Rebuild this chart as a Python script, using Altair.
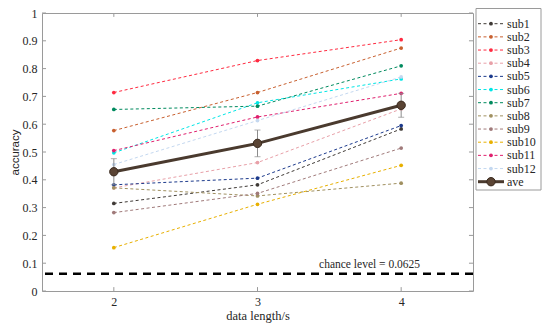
import altair as alt
import pandas as pd

# ---------------- data ----------------
x_len = [2, 3, 4]
sub_names = ["sub1", "sub2", "sub3", "sub4", "sub5", "sub6",
             "sub7", "sub8", "sub9", "sub10", "sub11", "sub12"]
sub1 = [0.315, 0.382, 0.583]
sub2 = [0.577, 0.714, 0.874]
sub3 = [0.714, 0.829, 0.904]
sub4 = [0.371, 0.462, 0.655]
sub5 = [0.382, 0.406, 0.595]
sub6 = [0.497, 0.677, 0.763]
sub7 = [0.653, 0.665, 0.810]
sub8 = [0.371, 0.342, 0.388]
sub9 = [0.282, 0.351, 0.514]
sub10 = [0.156, 0.312, 0.452]
sub11 = [0.505, 0.626, 0.711]
sub12 = [0.455, 0.613, 0.770]
ave = [0.429, 0.531, 0.668]
ave_err = [0.047, 0.048, 0.043]
chance = [0.0625]
chance_label = ["chance level = 0.0625"]
y_ticks = [0, 0.1, 0.2, 0.3, 0.4, 0.5, 0.6, 0.7, 0.8, 0.9, 1]

sub_vals = [sub1, sub2, sub3, sub4, sub5, sub6, sub7, sub8, sub9, sub10, sub11, sub12]
sub_colors = ["#3f3a36", "#c8602f", "#ff2a40", "#e8a0a8", "#1c3a8c", "#00e6e6",
              "#008a5e", "#a09060", "#a07a7a", "#e8b000", "#e0206e", "#c4d8f0"]
ave_color = "#4a3a2e"
all_names = sub_names + ["ave"]

rows = []
for name, vals in zip(sub_names, sub_vals):
    for xv, v in zip(x_len, vals):
        rows.append({"series": name, "x": xv, "acc": v})
df = pd.DataFrame(rows)
ave_df = pd.DataFrame({
    "x": x_len, "acc": ave,
    "lo": [a - e for a, e in zip(ave, ave_err)],
    "hi": [a + e for a, e in zip(ave, ave_err)],
})

FONT = "Liberation Serif"
FRAME = "#9a9a9a"
TXT = "#262626"

xs = alt.Scale(domain=[1.5, 4.5], nice=False, zero=False)
ys = alt.Scale(domain=[0, 1], nice=False, zero=False)
color_scale = alt.Scale(domain=sub_names, range=sub_colors)

xaxis = alt.Axis(values=x_len, title="data length/s", ticks=False, domain=False, grid=False,
                 labelFont=FONT, labelFontSize=12, labelColor=TXT, labelPadding=5,
                 titleFont=FONT, titleFontSize=12.5, titleFontWeight="normal",
                 titleColor=TXT, titlePadding=2)
yaxis = alt.Axis(values=y_ticks, format=".1~f", title="accuracy", ticks=False, domain=False,
                 grid=False, labelFont=FONT, labelFontSize=12, labelColor=TXT, labelPadding=5,
                 titleFont="Liberation Sans", titleFontSize=11.5, titleFontWeight="normal",
                 titleColor=TXT, titlePadding=2)

X = lambda f: alt.X(f, scale=xs, axis=xaxis)
Y = lambda f: alt.Y(f, scale=ys, axis=yaxis)

# ---------------- main plot ----------------
sub_lines = alt.Chart(df).mark_line(strokeDash=[3, 2.5], strokeWidth=1).encode(
    x=X("x:Q"), y=Y("acc:Q"),
    color=alt.Color("series:N", scale=color_scale, legend=None),
    detail="series:N",
)
sub_pts = alt.Chart(df).mark_circle(size=14, opacity=1).encode(
    x=X("x:Q"), y=Y("acc:Q"),
    color=alt.Color("series:N", scale=color_scale, legend=None),
)
err_rule = alt.Chart(ave_df).mark_rule(color="#8c8c8c", strokeWidth=1).encode(
    x=X("x:Q"), y=Y("lo:Q"), y2="hi:Q")
err_lo = alt.Chart(ave_df).mark_tick(orient="horizontal", size=6, thickness=1, color="#8c8c8c").encode(
    x=X("x:Q"), y=Y("lo:Q"))
err_hi = alt.Chart(ave_df).mark_tick(orient="horizontal", size=6, thickness=1, color="#8c8c8c").encode(
    x=X("x:Q"), y=Y("hi:Q"))
ave_line = alt.Chart(ave_df).mark_line(color=ave_color, strokeWidth=3).encode(
    x=X("x:Q"), y=Y("acc:Q"))
ave_pts = alt.Chart(ave_df).mark_point(filled=True, size=70, fill="#5a4434",
                                       stroke="#3a2a1e", strokeWidth=1, opacity=1).encode(
    x=X("x:Q"), y=Y("acc:Q"))

chance_df = pd.DataFrame({"c": chance})
chance_line = alt.Chart(chance_df).mark_rule(color="black", strokeWidth=2.5,
                                             strokeDash=[8, 6]).encode(y=Y("c:Q"))
chance_txt_df = pd.DataFrame({"x": [3.78], "y": [0.094], "t": chance_label})
chance_txt = alt.Chart(chance_txt_df).mark_text(font=FONT, fontSize=11.5, color=TXT,
                                                align="center", baseline="middle").encode(
    x=X("x:Q"), y=Y("y:Q"), text="t:N")

# inward ticks (MATLAB-style box)
xt_b = pd.DataFrame({"x": x_len, "a": [0.0] * 3, "b": [0.014] * 3})
xt_t = pd.DataFrame({"x": x_len, "a": [1.0] * 3, "b": [0.986] * 3})
yt_l = pd.DataFrame({"y": y_ticks, "a": [1.5] * 11, "b": [1.528] * 11})
yt_r = pd.DataFrame({"y": y_ticks, "a": [4.5] * 11, "b": [4.472] * 11})
tick_layers = [
    alt.Chart(d).mark_rule(color=FRAME, strokeWidth=1).encode(x=X("x:Q"), y=Y("a:Q"), y2="b:Q")
    for d in (xt_b, xt_t)
] + [
    alt.Chart(d).mark_rule(color=FRAME, strokeWidth=1).encode(y=Y("y:Q"), x=X("a:Q"), x2="b:Q")
    for d in (yt_l, yt_r)
]

main = alt.layer(*tick_layers, chance_line, chance_txt, sub_lines, sub_pts,
                 err_rule, err_lo, err_hi, ave_line, ave_pts)

# ---------------- legend ----------------
leg_y = alt.Y("series:N", scale=alt.Scale(type="point", domain=all_names,
                                          range=[10.7, 168.7], padding=0), axis=None)
leg_sub = pd.DataFrame({"series": sub_names})
leg_ave = pd.DataFrame({"series": ["ave"]})
leg_all = pd.DataFrame({"series": all_names})

LX = 434
leg_box = alt.Chart(pd.DataFrame({"k": [0]})).mark_rect(
    fill="white", stroke=FRAME, strokeWidth=1).encode(
    x=alt.value(LX), x2=alt.value(LX + 65), y=alt.value(-4.5), y2=alt.value(177))
leg_lines = alt.Chart(leg_sub).mark_rule(strokeDash=[3, 2.5], strokeWidth=1).encode(
    x=alt.value(LX + 2), x2=alt.value(LX + 28), y=leg_y,
    color=alt.Color("series:N", scale=color_scale, legend=None))
leg_pts = alt.Chart(leg_sub).mark_circle(size=14, opacity=1).encode(
    x=alt.value(LX + 15), y=leg_y,
    color=alt.Color("series:N", scale=color_scale, legend=None))
leg_ave_line = alt.Chart(leg_ave).mark_rule(color=ave_color, strokeWidth=3).encode(
    x=alt.value(LX + 2), x2=alt.value(LX + 28), y=leg_y)
leg_ave_pt = alt.Chart(leg_ave).mark_point(filled=True, size=70, fill="#5a4434",
                                           stroke="#3a2a1e", strokeWidth=1, opacity=1).encode(
    x=alt.value(LX + 15), y=leg_y)
leg_text = alt.Chart(leg_all).mark_text(font=FONT, fontSize=12, color=TXT,
                                        align="left", baseline="middle").encode(
    x=alt.value(LX + 31), y=leg_y, text="series:N")

legend = alt.layer(leg_box, leg_lines, leg_pts, leg_ave_line, leg_ave_pt, leg_text)

chart = alt.layer(main, legend).resolve_scale(y="independent").properties(
    width=431, height=278,
    autosize=alt.AutoSizeParams(type="none"),
    padding={"left": 34, "top": 5, "right": 69, "bottom": 34},
).configure_view(stroke=FRAME, strokeWidth=1)

chart.save("out.html", embed_options={"renderer": "svg", "actions": False})
